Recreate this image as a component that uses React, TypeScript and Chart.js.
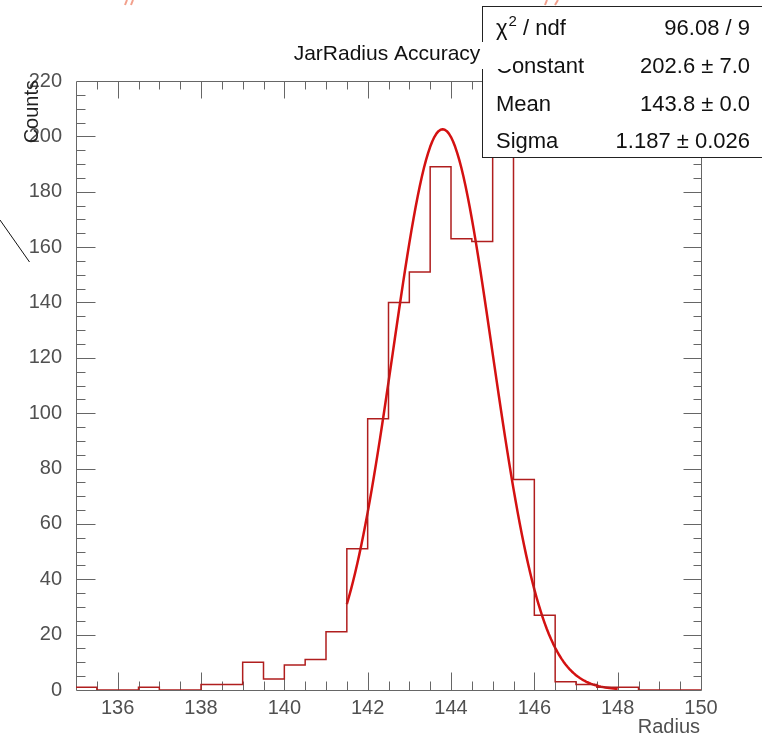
import React, { useEffect, useRef } from 'react';
import { Chart, registerables } from 'chart.js';

Chart.register(...registerables);

// ---------------- data ----------------
const binEdges = [
  135, 135.5, 136, 136.5, 137, 137.5, 138, 138.5, 139, 139.5,
  140, 140.5, 141, 141.5, 142, 142.5, 143, 143.5, 144, 144.5,
  145, 145.5, 146, 146.5, 147, 147.5, 148, 148.5, 149, 149.5, 150,
];
const counts = [
  1, 0, 0, 1, 0, 0, 2, 2, 10, 4,
  9, 11, 21, 51, 98, 140, 151, 189, 163, 162,
  209, 76, 27, 3, 2, 1, 1, 0, 0, 0,
];
const xTickLabels = [136, 138, 140, 142, 144, 146, 148, 150];
const yTickLabels = [0, 20, 40, 60, 80, 100, 120, 140, 160, 180, 200, 220];

// Gaussian fit (from the stats box): constant, mean, sigma, and its range
const fitParams = [202.6, 143.8, 1.187];
const fitRange = [141.5, 148];

const statNames = ['Constant', 'Mean', 'Sigma'];
const statValues = ['202.6 \u00B1 7.0', '143.8 \u00B1 0.0', '1.187 \u00B1 0.026'];
const chi2Value = '96.08 / 9';

const titleText = 'JarRadius Accuracy';
const xTitle = 'Radius';
const yTitle = 'Counts';

const FONT = '"Liberation Sans", Arial, Helvetica, sans-serif';
const AXIS_COLOR = '#666666';
const LABEL_COLOR = '#505050';
const HIST_COLOR = '#b01e1e';
const FIT_COLOR = '#d41111';

function histPoints() {
  return binEdges.map((e, i) => ({ x: e, y: counts[Math.min(i, counts.length - 1)] }));
}

function fitPoints() {
  const [c, m, s] = fitParams;
  const pts: { x: number; y: number }[] = [];
  const n = 130;
  for (let i = 0; i <= n; i++) {
    const x = fitRange[0] + ((fitRange[1] - fitRange[0]) * i) / n;
    pts.push({ x, y: c * Math.exp(-((x - m) * (x - m)) / (2 * s * s)) });
  }
  return pts;
}

const framePlugin = {
  id: 'rootFrame',
  beforeDatasetsDraw(chart: any) {
    const { ctx, chartArea: a, scales } = chart;
    const xs = scales.x;
    const ys = scales.y;
    const L = Math.round(a.left) + 0.5;
    const R = Math.round(a.right) + 0.5;
    const T = Math.round(a.top) + 0.5;
    const B = Math.round(a.bottom) + 0.5;
    ctx.save();
    ctx.strokeStyle = AXIS_COLOR;
    ctx.lineWidth = 1;
    ctx.beginPath();
    ctx.rect(L, T, R - L, B - T);
    // x ticks (bottom & top), minor every 0.5, major every 2
    for (let k = 1; k < 30; k++) {
      const v = 135 + k * 0.5;
      const px = Math.round(xs.getPixelForValue(v)) + 0.5;
      const major = v % 2 === 0;
      ctx.moveTo(px, B);
      ctx.lineTo(px, B - (major ? 18 : 9));
      ctx.moveTo(px, T);
      ctx.lineTo(px, T + (major ? 17 : 8));
    }
    // y ticks (left & right), minor every 5, major every 20
    for (let k = 1; k < 44; k++) {
      const v = k * 5;
      const py = Math.round(ys.getPixelForValue(v)) + 0.5;
      const major = v % 20 === 0;
      ctx.moveTo(L, py);
      ctx.lineTo(L + (major ? 19 : 9), py);
      ctx.moveTo(R, py);
      ctx.lineTo(R - (major ? 18 : 8), py);
    }
    ctx.stroke();
    ctx.restore();
  },
  afterDraw(chart: any) {
    const { ctx } = chart;
    ctx.save();

    // stats box
    ctx.fillStyle = '#ffffff';
    ctx.fillRect(482, 6, 300, 152);
    ctx.strokeStyle = '#222222';
    ctx.lineWidth = 1;
    ctx.strokeRect(482.5, 6.5, 300, 151);

    ctx.fillStyle = '#111111';
    ctx.textBaseline = 'alphabetic';
    ctx.textAlign = 'left';
    const rowY = [35, 73, 111, 148];
    ctx.font = `22px ${FONT}`;
    let x = 496;
    ctx.fillText('\u03C7', x, rowY[0]);
    x += ctx.measureText('\u03C7').width + 1;
    ctx.font = `15px ${FONT}`;
    ctx.fillText('2', x, rowY[0] - 9);
    x += ctx.measureText('2').width;
    ctx.font = `22px ${FONT}`;
    ctx.fillText(' / ndf', x, rowY[0]);
    ctx.textAlign = 'right';
    ctx.fillText(chi2Value, 750, rowY[0]);
    for (let i = 0; i < statNames.length; i++) {
      ctx.textAlign = 'left';
      ctx.fillText(statNames[i], 496, rowY[i + 1]);
      ctx.textAlign = 'right';
      ctx.fillText(statValues[i], 750, rowY[i + 1]);
    }

    // title box (drawn on top of stats box)
    ctx.fillStyle = '#ffffff';
    ctx.fillRect(280, 42, 231, 27);
    ctx.fillStyle = '#111111';
    ctx.font = `21px ${FONT}`;
    ctx.textAlign = 'center';
    ctx.fillText(titleText, 387, 60);

    // axis titles
    ctx.fillStyle = '#222222';
    ctx.font = `20px ${FONT}`;
    ctx.save();
    ctx.translate(38, 80);
    ctx.rotate(-Math.PI / 2);
    ctx.textAlign = 'right';
    ctx.fillText(yTitle, 0, 0);
    ctx.restore();

    ctx.fillStyle = LABEL_COLOR;
    ctx.textAlign = 'right';
    ctx.fillText(xTitle, 700, 733);

    // stray line at left edge
    ctx.strokeStyle = '#111111';
    ctx.lineWidth = 1;
    ctx.beginPath();
    ctx.moveTo(0, 220);
    ctx.lineTo(29.5, 262);
    ctx.stroke();

    // clipped fragments of text above the canvas
    ctx.strokeStyle = '#f2a08c';
    ctx.lineWidth = 2;
    ctx.beginPath();
    ctx.moveTo(125, 5); ctx.lineTo(127, 0);
    ctx.moveTo(131, 5); ctx.lineTo(133, 0);
    ctx.moveTo(545, 5); ctx.lineTo(547, 0);
    ctx.moveTo(555, 5); ctx.lineTo(558, 0);
    ctx.stroke();

    ctx.restore();
  },
};

export default function App() {
  const ref = useRef<HTMLCanvasElement | null>(null);
  useEffect(() => {
    if (!ref.current) return;
    const chart = new Chart(ref.current, {
      type: 'line',
      data: {
        datasets: [
          {
            label: 'hist',
            data: histPoints(),
            stepped: 'before',
            borderColor: HIST_COLOR,
            borderWidth: 1.5,
            pointRadius: 0,
            fill: false,
            tension: 0,
          },
          {
            label: 'gaus',
            data: fitPoints(),
            borderColor: FIT_COLOR,
            borderWidth: 2.5,
            pointRadius: 0,
            fill: false,
            tension: 0,
            borderJoinStyle: 'round',
          },
        ],
      },
      options: {
        responsive: false,
        maintainAspectRatio: false,
        animation: false,
        events: [],
        layout: { padding: { top: 81, right: 61, left: 0, bottom: 0 } },
        plugins: {
          legend: { display: false },
          tooltip: { enabled: false },
          title: { display: false },
        },
        scales: {
          x: {
            type: 'linear',
            min: 135,
            max: 150,
            grid: { display: false },
            border: { display: false },
            ticks: {
              color: LABEL_COLOR,
              font: { family: FONT, size: 20 },
              padding: -2,
              maxRotation: 0,
              autoSkip: false,
            },
            afterBuildTicks: (s: any) => {
              s.ticks = xTickLabels.map((v) => ({ value: v }));
            },
            afterFit: (s: any) => {
              s.height = 47;
            },
          },
          y: {
            type: 'linear',
            min: 0,
            max: 220,
            grid: { display: false },
            border: { display: false },
            ticks: {
              color: LABEL_COLOR,
              font: { family: FONT, size: 20 },
              padding: 6,
              autoSkip: false,
            },
            afterBuildTicks: (s: any) => {
              s.ticks = yTickLabels.map((v) => ({ value: v }));
            },
            afterFit: (s: any) => {
              s.width = 76;
            },
          },
        },
      },
      plugins: [framePlugin],
    } as any);
    return () => chart.destroy();
  }, []);

  return (
    <div style={{ position: 'fixed', left: 0, top: 0, width: 762, height: 737, background: '#fff' }}>
      <canvas ref={ref} width={762} height={737} style={{ width: 762, height: 737, display: 'block' }} />
    </div>
  );
}
